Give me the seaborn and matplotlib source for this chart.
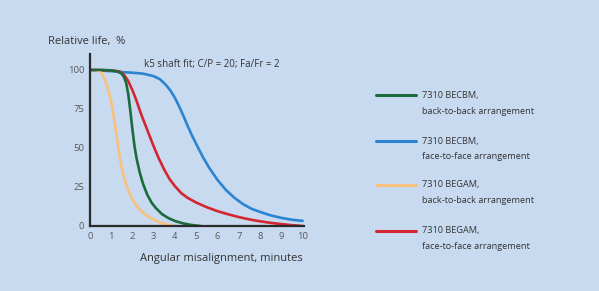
import numpy as np
import pandas as pd
import matplotlib
matplotlib.use("Agg")
import matplotlib.pyplot as plt
import seaborn as sns
from matplotlib.lines import Line2D

# values
blue_x = [0, 1.0, 1.5, 2.0, 2.5, 3.0, 3.3, 3.6, 3.8, 4.0, 4.2, 4.4, 4.6, 4.8, 5.0, 5.3, 5.6,
          6.0, 6.4, 6.8, 7.2, 7.6, 8.0, 8.5, 9.0, 9.5, 10.0]
blue_y = [100, 99.2, 98.6, 98.2, 97.6, 96, 94, 90, 86.5, 82, 76.5, 70.5, 64, 58, 52.5, 44.5, 37.5,
          29.5, 23, 18, 14, 11, 9, 6.8, 5.2, 4, 3.3]

red_x = [0, 1.0, 1.4, 1.6, 1.8, 2.0, 2.2, 2.4, 2.6, 2.8, 3.0, 3.25, 3.5, 3.75, 4.0, 4.3, 4.6,
         5.0, 5.5, 6.0, 6.5, 7.0, 7.5, 8.0, 8.5, 9.0, 9.5, 10.0]
red_y = [100, 99.7, 99, 97, 93, 87, 80, 72, 65, 58, 51, 43, 36, 30, 25.5, 21, 18,
         15, 12, 9.5, 7.5, 5.7, 4.2, 3, 2, 1.2, 0.5, 0]

orange_x = [0, 0.2, 0.4, 0.55, 0.7, 0.85, 1.0, 1.1, 1.2, 1.3, 1.4, 1.5, 1.65, 1.8, 2.0, 2.25,
            2.5, 2.8, 3.1, 3.4, 3.7, 4.0]
orange_y = [100, 100, 99.5, 98, 94, 88, 80, 72, 63, 54, 45, 37, 29, 23, 17, 12,
            8.5, 5.5, 3.3, 1.8, 0.7, 0]

green_x = [0, 0.5, 1.0, 1.3, 1.5, 1.6, 1.7, 1.8, 1.9, 2.0, 2.1, 2.2, 2.35, 2.5, 2.7, 2.9, 3.1,
           3.4, 3.7, 4.0, 4.4, 4.8, 5.2]
green_y = [100, 100, 99.7, 99, 97.5, 95.5, 92, 85, 74, 62, 51, 43, 34, 27, 20, 15, 11.5,
           7.5, 5, 3.2, 1.6, 0.6, 0]

series = ["7310 BECBM, face", "7310 BEGAM, face", "7310 BEGAM, back", "7310 BECBM, back"]
colors = ["#2a84d2", "#d3262f", "#f8c27e", "#1c6b3c"]

legend_order = [3, 0, 2, 1]
legend_top = ["7310 BECBM,", "7310 BECBM,", "7310 BEGAM,", "7310 BEGAM,"]
legend_bottom = ["back-to-back arrangement", "face-to-face arrangement",
                 "back-to-back arrangement", "face-to-face arrangement"]

xs = [blue_x, red_x, orange_x, green_x]
ys = [blue_y, red_y, orange_y, green_y]
frames = []
for name, x, y in zip(series, xs, ys):
    frames.append(pd.DataFrame({"x": x, "y": y, "s": name}))
data = pd.concat(frames, ignore_index=True)

bg = "#c8daf0"
sns.set_style("white", {"axes.facecolor": bg, "figure.facecolor": bg})
plt.rcParams["font.family"] = ["Open Sans", "DejaVu Sans"]

fig = plt.figure(figsize=(5.99, 2.91), dpi=100)
ax = fig.add_axes([0.150, 0.2234, 0.357, 0.59])

sns.lineplot(data=data, x="x", y="y", hue="s", palette=colors, hue_order=series,
             sort=False, estimator=None, linewidth=1.9, legend=False, ax=ax)

ax.set_xlim(0, 10.05)
ax.set_ylim(0, 110)
ax.set_xticks(range(0, 11))
ax.set_yticks([0, 25, 50, 75, 100])
ax.spines["top"].set_visible(False)
ax.spines["right"].set_visible(False)
for sp in ["left", "bottom"]:
    ax.spines[sp].set_color("#2b2b2b")
    ax.spines[sp].set_linewidth(1.6)
ax.tick_params(axis="both", direction="out", length=3, width=1.4, color="#2b2b2b",
               labelsize=6.8, labelcolor="#5a5a5a", pad=1)
ax.set_xlabel("")
ax.set_ylabel("")

fig.text(48 / 599, 1 - 42 / 291, "Relative life,  %", fontsize=8, color="#333333",
         ha="left", va="center")
fig.text(144 / 599, 1 - 64 / 291, "k5 shaft fit; C/P = 20; Fa/Fr = 2", fontsize=7,
         color="#333333", ha="left", va="center")
fig.text(140 / 599, 1 - 259 / 291, "Angular misalignment, minutes", fontsize=8,
         color="#333333", ha="left", va="center")

leg_y = [95.5, 141, 185, 231]
for i, k in enumerate(legend_order):
    yy = 1 - leg_y[i] / 291
    fig.add_artist(Line2D([376 / 599, 416 / 599], [yy, yy], color=colors[k], lw=2.2))
    fig.text(422 / 599, yy, legend_top[i], fontsize=6.6, color="#333333",
             ha="left", va="center")
    fig.text(422 / 599, yy - 15.5 / 291, legend_bottom[i], fontsize=6.6,
             color="#333333", ha="left", va="center")

fig.savefig("out.png", dpi=100, facecolor=bg)
